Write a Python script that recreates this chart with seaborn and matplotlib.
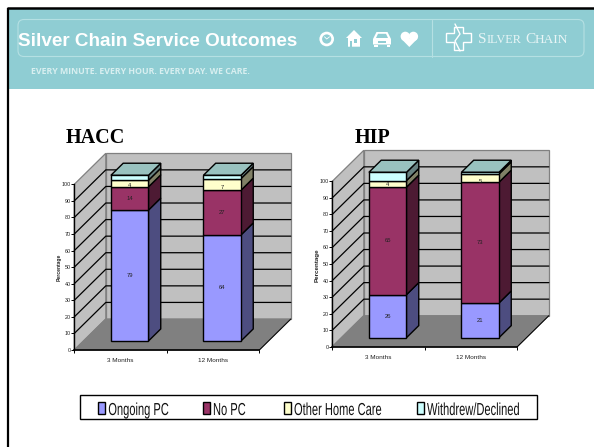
import numpy as np
import matplotlib
matplotlib.use("Agg")
import matplotlib.pyplot as plt
import matplotlib.patheffects as pe
from matplotlib.transforms import Affine2D
from matplotlib.patches import Polygon, Rectangle, FancyBboxPatch, Circle
import seaborn as sns

months = ["3 Months", "12 Months"]
series_names = ["Ongoing PC", "No PC", "Other Home Care", "Withdrew/Declined"]
hacc_ongoing = [79, 64]
hacc_no_pc = [14, 27]
hacc_other = [4, 7]
hacc_withdrew = [3, 2]
hip_ongoing = [26, 21]
hip_no_pc = [65, 73]
hip_other = [4, 5]
hip_withdrew = [5, 1]
y_ticks = list(range(0, 101, 10))

colors = ["#9999ff", "#993366", "#ffffcc", "#ccffff"]
side_colors = ["#4d4d80", "#4d1a33", "#808066", "#668080"]
top_color = "#99c2bf"
teal = "#8fcdd3"
line_teal = "#b5e0e3"

W, H = 594, 447
sns.set_theme(style="white")
plt.rcParams["font.family"] = ["Liberation Sans", "DejaVu Sans"]


class Squeeze(pe.AbstractPathEffect):
    # the legend font is a condensed one, none is installed so squeeze the glyphs
    def __init__(self, x0, sx):
        super().__init__()
        self.x0 = x0
        self.sx = sx

    def draw_path(self, renderer, gc, tpath, affine, rgbFace=None):
        tr = affine + Affine2D().translate(-self.x0, 0).scale(self.sx, 1).translate(self.x0, 0)
        renderer.draw_path(gc, tpath, tr, rgbFace)


fig = plt.figure(figsize=(W / 100, H / 100), dpi=100, facecolor="white")

# page furniture is drawn in pixel coordinates
bg = fig.add_axes([0, 0, 1, 1])
bg.set_xlim(0, W)
bg.set_ylim(H, 0)
bg.axis("off")
bg.add_patch(Rectangle((9, 9), W, 79.5, fc=teal, ec="none"))
bg.plot([8, 8], [H, 7.5], color="black", lw=1.6, solid_capstyle="butt")
bg.plot([7, W], [7.8, 7.8], color="black", lw=1.8, solid_capstyle="butt")
bg.add_patch(FancyBboxPatch((18, 19.5), 566, 37, boxstyle="round,pad=0,rounding_size=6",
                            fc="none", ec=line_teal, lw=0.8))
bg.plot([432, 432], [19.5, 56.5], color=line_teal, lw=0.8)
bg.text(18.5, 41.3, "Silver Chain Service Outcomes", color="white", fontsize=13.6,
        fontweight="bold", va="center", ha="left")
bg.text(31, 71.5, "EVERY MINUTE. EVERY HOUR. EVERY DAY. WE CARE.", color="#d8eff0",
        fontsize=6.3, fontweight="bold", va="center", ha="left", family="Open Sans")
for txt, tx, size in [("S", 478, 11), ("ILVER", 486.5, 8.8), ("C", 525, 11), ("HAIN", 535, 9.6)]:
    bg.text(tx, 43, txt, color="#e8f5f6", fontsize=size, va="baseline", ha="left",
            family="Liberation Serif")

# icons
bg.add_patch(Circle((326.7, 39), 7.3, fc="white", ec="none"))
bg.add_patch(Circle((326.7, 39), 4.6, fc=teal, ec="none"))
bg.plot([324.5, 326.7, 329.5], [36.8, 39, 36.8], color="white", lw=0.6)
bg.add_patch(Polygon([(346, 38), (354, 30), (362, 38), (360, 38), (360, 46.7), (348, 46.7), (348, 38)],
                     fc="white", ec="none"))
bg.add_patch(Rectangle((353.5, 39), 3.5, 4, fc=teal, ec="none"))
bg.add_patch(Rectangle((350, 41), 2, 5.7, fc=teal, ec="none"))
bg.add_patch(Polygon([(373, 39), (376.5, 32), (387.5, 32), (391, 39), (391, 44.5), (373, 44.5)],
                     fc="white", ec="none"))
bg.add_patch(Polygon([(376, 38), (378, 33.8), (386, 33.8), (388, 38)], fc=teal, ec="none"))
bg.add_patch(Rectangle((378, 41), 8, 1.5, fc=teal, ec="none"))
bg.add_patch(Rectangle((374, 44.5), 3.5, 2.5, fc="white", ec="none"))
bg.add_patch(Rectangle((386.5, 44.5), 3.5, 2.5, fc="white", ec="none"))
bg.add_patch(Circle((405.3, 36.4), 4.7, fc="white", ec="none"))
bg.add_patch(Circle((413.4, 36.4), 4.7, fc="white", ec="none"))
bg.add_patch(Polygon([(401, 38.5), (417.7, 38.5), (409.3, 47)], fc="white", ec="none"))

# logo cross
cross = [(446, 33), (454, 33), (454, 27), (463, 27), (463, 33), (471, 33), (471, 42), (463, 42),
         (463, 50), (454, 50), (454, 42), (446, 42)]
bg.add_patch(Polygon(cross, fc="none", ec="white", lw=1))
bg.plot([455, 460, 455, 460], [24, 34, 41, 51], color="white", lw=1)


def draw_panel(rect, values, title, title_x, title_y, ylab_size, ylab_x, ylab_y):
    left, right, y0, y100 = rect
    ax = fig.add_axes([left / W, 1 - y0 / H, (right - left) / W, (y0 - y100) / H])
    ax.patch.set_visible(False)

    bottom = np.zeros(len(months))
    for vals, col in zip(values, colors):
        sns.barplot(x=months, y=vals, bottom=bottom, color=col, saturation=1, width=0.406,
                    edgecolor="black", linewidth=1, ax=ax, zorder=4)
        bottom = bottom + np.array(vals)

    ax.set_xlim(-0.5, 1.5)
    ax.set_ylim(0, 100)

    # depth of the 3d box in data units
    dx = 31.5 / ((right - left) / 2)
    dy = 31 / ((y0 - y100) / 100)
    fx, bx = 0.29 * dx, 0.68 * dx
    fy, by = 0.29 * dy, 0.68 * dy

    wall = dict(clip_on=False, zorder=0, ec="#808080", lw=0.9)
    ax.add_patch(Polygon([(-0.5, 0), (-0.5 + dx, dy), (-0.5 + dx, 100 + dy), (-0.5, 100)], fc="#c0c0c0", **wall))
    ax.add_patch(Polygon([(-0.5 + dx, dy), (1.5 + dx, dy), (1.5 + dx, 100 + dy), (-0.5 + dx, 100 + dy)], fc="#c0c0c0", **wall))
    ax.add_patch(Polygon([(-0.5, 0), (1.5, 0), (1.5 + dx, dy), (-0.5 + dx, dy)], fc="#808080", **wall))
    ax.plot([1.5, 1.5 + dx], [0, dy], color="black", lw=0.7, clip_on=False, zorder=1)
    for t in y_ticks[1:-1]:
        ax.plot([-0.5, -0.5 + dx, 1.5 + dx], [t, t + dy, t + dy], color="black", lw=0.9, clip_on=False, zorder=1)

    # move the fronts back into the box, then build the side and top faces from them
    for cont, col, side in zip(ax.containers, colors, side_colors):
        for bar in cont:
            bar.set_x(bar.get_x() + fx)
            bar.set_y(bar.get_y() + fy)
            bar.set_clip_on(False)
            x1 = bar.get_x() + bar.get_width()
            b, t = bar.get_y(), bar.get_y() + bar.get_height()
            d_x, d_y = bx - fx, by - fy
            ax.add_patch(Polygon([(x1, b), (x1 + d_x, b + d_y), (x1 + d_x, t + d_y), (x1, t)],
                                 fc=side, ec="black", lw=1, clip_on=False, zorder=3))
            if col == colors[-1]:
                x0 = bar.get_x()
                ax.add_patch(Polygon([(x0, t), (x1, t), (x1 + d_x, t + d_y), (x0 + d_x, t + d_y)],
                                     fc=top_color, ec="black", lw=1, clip_on=False, zorder=3))
        ax.bar_label(cont, label_type="center", fontsize=4.2, color="#222222", zorder=6)

    sns.despine(ax=ax)
    ax.spines["left"].set_color("black")
    ax.spines["bottom"].set_color("black")
    ax.spines["left"].set_linewidth(1)
    ax.spines["bottom"].set_linewidth(1.2)
    ax.set_yticks(y_ticks)
    ax.tick_params(axis="y", left=True, length=2, width=0.7, color="black", labelsize=3.9, pad=0.5, labelcolor="#222222")
    ax.set_xticks([-0.5, 0.5, 1.5], minor=True)
    ax.tick_params(axis="x", which="major", bottom=False, length=0, labelsize=4.6, pad=5.8, labelcolor="#222222")
    ax.tick_params(axis="x", which="minor", bottom=True, length=2.5, width=0.7, color="black")
    ax.set_xlabel("")
    ax.set_ylabel("")
    fig.text(ylab_x / W, 1 - ylab_y / H, "Percentage", rotation=90, fontsize=ylab_size,
             fontweight="bold", ha="center", va="center", color="#222222")
    fig.text(title_x / W, 1 - title_y / H, title, family="Liberation Serif", fontweight="bold",
             fontsize=14.5, color="black", ha="left", va="center")
    return ax


draw_panel((74.3, 259.3, 350, 184.3), [hacc_ongoing, hacc_no_pc, hacc_other, hacc_withdrew],
           "HACC", 66, 138, 3.6, 59.3, 267)
draw_panel((332.3, 517.3, 346.7, 181.3), [hip_ongoing, hip_no_pc, hip_other, hip_withdrew],
           "HIP", 355, 138, 4.5, 316.7, 265)

# legend box, squeezed text can't go through fig.legend since it measures the full width
bg.add_patch(Rectangle((79.5, 395), 457, 24.3, fc="white", ec="black", lw=1, zorder=5))
swatch_x = [98.3, 203, 284, 417]
for name, col, sx in zip(series_names, colors, swatch_x):
    bg.add_patch(Rectangle((sx, 402), 6.7, 12, fc=col, ec="black", lw=1, zorder=6))
    tx = sx + 10
    bg.text(tx, 415, name, fontsize=12.5, color="#111111", va="baseline", ha="left", zorder=6,
            path_effects=[Squeeze(tx, 0.64)])

fig.savefig("out.png", dpi=100)
